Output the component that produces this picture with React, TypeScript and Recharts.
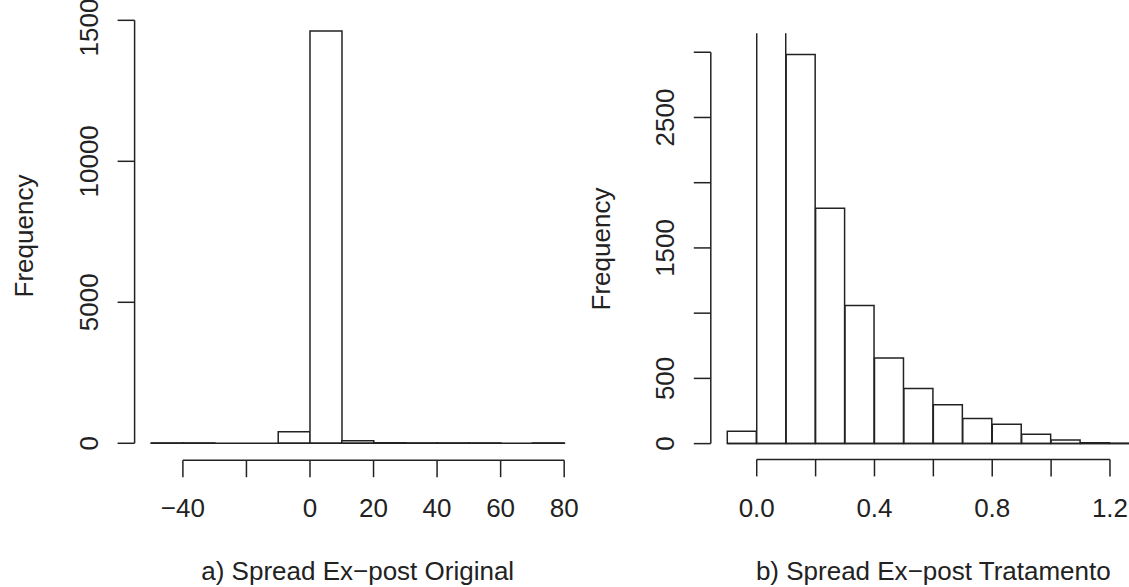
import { Bar, ComposedChart, ReferenceLine, XAxis, YAxis } from "recharts";

// a) Spread Ex-post Original: bins of width 10, -50 .. 80
const origBinStarts = [-50, -40, -30, -20, -10, 0, 10, 20, 30, 40, 50, 60, 70];
const origCounts = [12, 10, 0, 0, 411, 14620, 92, 22, 10, 9, 7, 0, 6];
const origXTicks = [-40, -20, 0, 20, 40, 60, 80];
const origXLabels = [-40, 0, 20, 40, 60, 80];
const origYTicks = [0, 5000, 10000, 15000];
const origYLabels = [0, 5000, 10000, 15000];

// b) Spread Ex-post Tratamento: bins of width 0.1, -0.1 .. 1.3
const tratBinStarts = [-0.1, 0, 0.1, 0.2, 0.3, 0.4, 0.5, 0.6, 0.7, 0.8, 0.9, 1.0, 1.1, 1.2];
const tratCounts = [95, 5200, 2983, 1805, 1058, 657, 422, 297, 192, 149, 72, 28, 6, 3];
const tratXTicks = [0, 0.2, 0.4, 0.6, 0.8, 1.0, 1.2];
const tratXLabels = [0, 0.4, 0.8, 1.2];
const tratYTicks = [0, 500, 1000, 1500, 2000, 2500, 3000];
const tratYLabels = [0, 500, 1500, 2500];

const INK = "#222";
const FONT = "'Liberation Sans', Arial, Helvetica, sans-serif";
const FS = 26;
const LW = 1.5;

// R pads each axis range by 4% on both sides
function pad(lo: number, hi: number): [number, number] {
  const d = (hi - lo) * 0.04;
  return [lo - d, hi + d];
}

function minus(s: string) {
  return s.replace("-", "\u2212");
}

// R drops labels that would overlap, the tick marks stay
function XTick(props: any) {
  const { x, y, payload, shown, fmt } = props;
  if (!shown.includes(payload.value)) return <g />;
  return (
    <text x={x} y={y} dy="0.71em" textAnchor="middle" fill={INK} fontFamily={FONT} fontSize={FS}>
      {fmt(payload.value)}
    </text>
  );
}

function YTick(props: any) {
  const { x, y, payload, shown } = props;
  if (!shown.includes(payload.value)) return <g />;
  return (
    <text
      x={x}
      y={y}
      transform={`rotate(-90, ${x}, ${y})`}
      textAnchor="middle"
      fill={INK}
      fontFamily={FONT}
      fontSize={FS}
    >
      {payload.value}
    </text>
  );
}

function Histogram({
  starts,
  counts,
  binWidth,
  yMax,
  xTicks,
  xLabels,
  yTicks,
  yLabels,
  fmt,
  width,
  margin,
  yAxisWidth,
  xAxisHeight,
  tickMargin,
}: {
  starts: number[];
  counts: number[];
  binWidth: number;
  yMax: number;
  xTicks: number[];
  xLabels: number[];
  yTicks: number[];
  yLabels: number[];
  fmt: (v: number) => string;
  width: number;
  margin: { top: number; right: number; left: number; bottom: number };
  yAxisWidth: number;
  xAxisHeight: number;
  tickMargin: number;
}) {
  const data = starts.map((s, i) => ({ mid: s + binWidth / 2, count: counts[i] }));
  const lastEdge = starts[starts.length - 1] + binWidth;
  const xDomain = pad(starts[0], lastEdge);
  const yDomain = pad(0, yMax);

  return (
    <ComposedChart width={width} height={587} data={data} margin={margin} barCategoryGap={0} barGap={0}>
      <XAxis
        dataKey="mid"
        type="number"
        domain={xDomain}
        allowDataOverflow
        ticks={xTicks}
        interval={0}
        height={xAxisHeight}
        axisLine={false}
        tickSize={17}
        tickMargin={tickMargin}
        tickLine={{ stroke: INK, strokeWidth: LW }}
        tick={(p: any) => <XTick {...p} shown={xLabels} fmt={fmt} />}
      />
      <YAxis
        type="number"
        domain={yDomain}
        allowDataOverflow
        ticks={yTicks}
        interval={0}
        width={yAxisWidth}
        axisLine={false}
        tickSize={17}
        tickMargin={20}
        tickLine={{ stroke: INK, strokeWidth: LW }}
        tick={(p: any) => <YTick {...p} shown={yLabels} />}
      />
      <Bar dataKey="count" fill="#fff" stroke={INK} strokeWidth={LW} isAnimationActive={false} />
      {/* zero-count bins still show as a line along 0 */}
      <ReferenceLine
        segment={[{ x: starts[0], y: 0 }, { x: lastEdge, y: 0 }]}
        stroke={INK}
        strokeWidth={LW}
        ifOverflow="visible"
      />
      {/* axis lines run from first to last tick, like R */}
      <ReferenceLine
        segment={[{ x: xDomain[0], y: yTicks[0] }, { x: xDomain[0], y: yTicks[yTicks.length - 1] }]}
        stroke={INK}
        strokeWidth={LW}
        ifOverflow="visible"
      />
      <ReferenceLine
        segment={[{ x: xTicks[0], y: yDomain[0] }, { x: xTicks[xTicks.length - 1], y: yDomain[0] }]}
        stroke={INK}
        strokeWidth={LW}
        ifOverflow="visible"
      />
    </ComposedChart>
  );
}

const textStyle = { fill: INK, fontFamily: FONT, fontSize: FS };

export default function App() {
  return (
    <div
      style={{
        position: "fixed",
        left: 0,
        top: 0,
        width: 1129,
        height: 587,
        overflow: "hidden",
        background: "#fff",
      }}
    >
      <div style={{ position: "absolute", left: 0, top: 0 }}>
        <Histogram
          starts={origBinStarts}
          counts={origCounts}
          binWidth={10}
          yMax={15000}
          xTicks={origXTicks}
          xLabels={origXLabels}
          yTicks={origYTicks}
          yLabels={origYLabels}
          fmt={(v) => minus(String(v))}
          width={600}
          margin={{ top: 3.4, right: 19.3, left: 0, bottom: 0 }}
          yAxisWidth={134.6}
          xAxisHeight={126.8}
          tickMargin={21}
        />
      </div>
      <div style={{ position: "absolute", left: 600, top: 0 }}>
        <Histogram
          starts={tratBinStarts}
          counts={tratCounts}
          binWidth={0.1}
          yMax={3025}
          xTicks={tratXTicks}
          xLabels={tratXLabels}
          yTicks={tratYTicks}
          yLabels={tratYLabels}
          fmt={(v) => v.toFixed(1)}
          width={560}
          margin={{ top: 33.2, right: 4.1, left: 0, bottom: 0 }}
          yAxisWidth={110.8}
          xAxisHeight={127.6}
          tickMargin={22}
        />
      </div>
      <svg
        width={1129}
        height={587}
        style={{ position: "absolute", left: 0, top: 0, pointerEvents: "none" }}
      >
        <text x={33} y={236} transform="rotate(-90, 33, 236)" textAnchor="middle" {...textStyle}>
          Frequency
        </text>
        <text x={610} y={249} transform="rotate(-90, 610, 249)" textAnchor="middle" {...textStyle}>
          Frequency
        </text>
        <text x={357.7} y={580} textAnchor="middle" {...textStyle}>
          a) Spread Ex{"\u2212"}post Original
        </text>
        <text x={933.3} y={580} textAnchor="middle" {...textStyle}>
          b) Spread Ex{"\u2212"}post Tratamento
        </text>
      </svg>
    </div>
  );
}
